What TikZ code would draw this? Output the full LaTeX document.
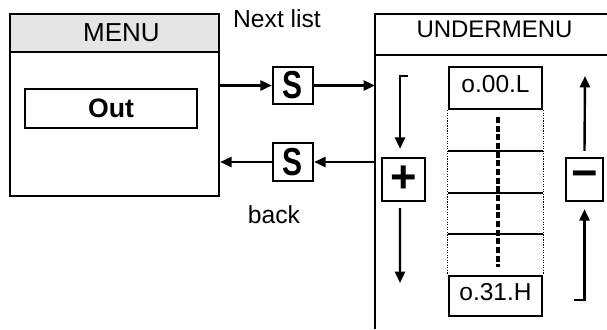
\documentclass[tikz,border=0pt]{standalone}
\usepackage{fontspec}
\usepackage{graphicx}
\setmainfont{Liberation Sans}
\usetikzlibrary{arrows.meta}

\tikzset{
  box/.style={draw, line width=1.8pt, inner sep=0pt},
  arr/.style={line width=1.8pt, -{Triangle[length=8.5pt,width=7.5pt]}},
  cell/.style={box, minimum width=69.75pt, text depth=6pt,
    font=\fontsize{18.4}{20}\selectfont},
  sbox/.style={box, minimum width=30pt, font=\fontsize{22.5}{24}\bfseries},
  sign/.style={box, minimum height=32.25pt, font=\fontsize{34}{36}\bfseries},
  lbl/.style={font=\fontsize{18.5}{20}\selectfont},
}

\begin{document}
\begin{tikzpicture}[x=0.75pt, y=-0.75pt]
    \useasboundingbox (0,0) rectangle (607,329);

    % Menu
    \node[box, minimum width=156.75pt, minimum height=136.5pt] (menu) at (114.5,105) {};
    \node[box, fill=gray!20, minimum width=156.75pt, minimum height=28.5pt,
      font=\fontsize{19.5}{21}\selectfont] (menuhead) at (114.5,33) {\hspace*{10.5pt}MENU};
    \node[box, minimum width=129pt, minimum height=29.25pt,
      font=\fontsize{20}{22}\bfseries] (out) at (111,108.5) {Out};

    % Undermenu
    \draw[line width=1.8pt] (607,14) -- (375,14) -- (375,329);
    \draw[line width=1.8pt] (375,55) -- (607,55);
    \coordinate (uleft) at (375,0);
    \node[font=\fontsize{18}{20}\selectfont] (undertitle) at (494.5,29.5) {UNDERMENU};

    % S keys
    \node[sbox, minimum height=27.75pt] (s1) at (293,85.5) {\scalebox{1}[1.3]{S}};
    \node[sbox, minimum height=28.5pt] (s2) at (293,162) {\scalebox{1}[1.3]{S}};
    \node[lbl] (next) at (277,18.5) {Next list};
    \node[lbl] (back) at (274,215) {back};

    \draw[arr] (s1.west -| menu.east) -- (s1.west);
    \draw[arr] (s1.east) -- (s1.east -| uleft);
    \draw[arr] (s2.east -| uleft) -- (s2.east);
    \draw[arr] (s2.west) -- (s2.west -| menu.east);

    % List
    \node[cell, minimum height=31.5pt] (first) at (495.5,88) {o.00.L};
    \node[cell, minimum height=30pt] (last) at (495.5,296) {o.31.H};
    \draw[densely dotted, line width=0.9pt] (first.south west) -- (last.north west);
    \draw[densely dotted, line width=0.9pt] (first.south east) -- (last.north east);
    \foreach \y in {151,193,234} {
        \draw[line width=1.4pt] (first.west |- 0,\y) -- (first.east |- 0,\y);
    }
    \draw[dash pattern=on 4.5pt off 2pt, line width=2.4pt] (498,117) -- (498,267);

    % Plus / minus keys
    \node[sign, minimum width=32.25pt] (plus) at (403.5,179.5) {+};
    \node[sign, minimum width=27.75pt] (minus) at (584.5,179.5) {−};

    \coordinate (ptop) at (408,76);
    \coordinate (pbot) at (400,283);
    \coordinate (mtop) at (585,76);
    \coordinate (mbot) at (574,300);
    \draw[arr, shorten >=6pt] (ptop) -| ([xshift=-2.6pt]plus.north);
    \draw[arr] ([xshift=-2.6pt,yshift=-4.5pt]plus.south) -- (pbot);
    \draw[arr] ([yshift=4.5pt]minus.north) -- (mtop);
    \draw[arr, shorten >=5.25pt] (mbot) -| (minus.south);
\end{tikzpicture}
\end{document}
